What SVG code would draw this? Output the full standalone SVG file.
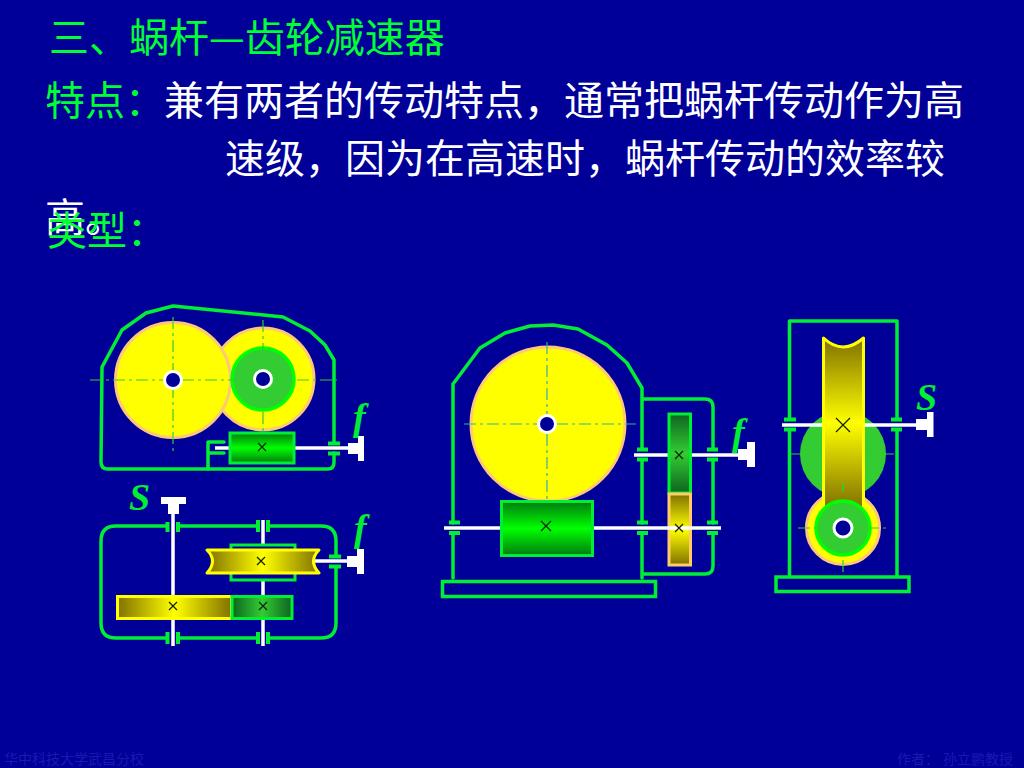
<svg xmlns="http://www.w3.org/2000/svg" width="1024" height="768" viewBox="0 0 1024 768">
<style>
.t{font-family:"Noto Sans CJK SC","Liberation Serif",sans-serif;font-size:40px}
.w{fill:#fff}
.g{fill:#00ff33}
.l{font-family:"Liberation Serif",serif;font-style:italic;font-weight:bold;font-size:38px;fill:#00ee33}
.foot{font-family:"Noto Sans CJK SC",sans-serif;font-size:14px;fill:#1a1ab0}
.h{fill:none;stroke:#00ee33;stroke-width:3.5;stroke-linejoin:round;stroke-linecap:round}
.b{fill:none;stroke:#00ee33;stroke-width:4;stroke-linecap:butt}
.s{fill:none;stroke:#fff;stroke-width:3.5}
.sh{fill:#fff}
.c{fill:none;stroke:#33cc33;stroke-width:1.2;stroke-dasharray:12 4 3 4}
.c2{fill:none;stroke:#33b0a0;stroke-width:1.2;stroke-dasharray:12 4 3 4}
.x{fill:none;stroke:#102010;stroke-width:1.2}
.wh{fill:#ffff00;stroke:#ffc878;stroke-width:3}
.hub{fill:#33cc33;stroke:#00ff00;stroke-width:3.5}
.hole{fill:#000099;stroke:#fff;stroke-width:3}
</style>
<defs>
<linearGradient id="gv" x1="0" y1="0" x2="0" y2="1"><stop offset="0" stop-color="#007a10"/><stop offset=".5" stop-color="#00ff00"/><stop offset="1" stop-color="#007a10"/></linearGradient>
<linearGradient id="gd" x1="0" y1="0" x2="0" y2="1"><stop offset="0" stop-color="#0e6420"/><stop offset=".5" stop-color="#33cc33"/><stop offset="1" stop-color="#0e6420"/></linearGradient>
<linearGradient id="gh" x1="0" y1="0" x2="1" y2="0"><stop offset="0" stop-color="#0e6420"/><stop offset=".5" stop-color="#33cc33"/><stop offset="1" stop-color="#0e6420"/></linearGradient>
<linearGradient id="yh" x1="0" y1="0" x2="1" y2="0"><stop offset="0" stop-color="#807000"/><stop offset=".5" stop-color="#ffff00"/><stop offset="1" stop-color="#807000"/></linearGradient>
<linearGradient id="yv" x1="0" y1="0" x2="0" y2="1"><stop offset="0" stop-color="#807000"/><stop offset=".5" stop-color="#ffff00"/><stop offset="1" stop-color="#807000"/></linearGradient>
</defs>
<rect width="1024" height="768" fill="#000099"/>

<g id="text">
<text class="t g" x="49" y="52">三、蜗杆—齿轮减速器</text>
<text class="t g" x="45" y="115">特点：</text>
<text class="t w" x="164" y="115">兼有两者的传动特点，通常把蜗杆传动作为高</text>
<text class="t w" x="225" y="173">速级，因为在高速时，蜗杆传动的效率较</text>
<text class="t w" x="45" y="232">高。</text>
<text class="t g" x="47" y="245">类型：</text>
<text class="foot" x="4" y="764">华中科技大学武昌分校</text>
<text class="foot" x="897" y="764">作者：</text>
<text class="foot" x="943" y="764">孙立鹏教授</text>
</g>

<g id="reducer-a">
<path class="h" d="M334,442V360L325,345L310,331L283,317L173,306L146,313L122,330L102,367L101,462Q101,469 108,469H328Q334,469 334,462V453"/>
<path class="h" d="M224,442H208V469M208,453H224"/>
<circle class="wh" cx="263" cy="379" r="51"/>
<circle class="wh" cx="173" cy="380" r="57.5"/>
<circle class="hub" cx="263" cy="379" r="31"/>
<path class="c" d="M90,380H337M173,317V452M263,320V433"/>
<circle class="hole" cx="173" cy="380" r="8.5"/>
<circle class="hole" cx="263" cy="379" r="8.5"/>
<path class="s" d="M215,448H350"/>
<rect x="230" y="433" width="64" height="30" fill="url(#gv)" stroke="#00ee33" stroke-width="3"/>
<path class="x" d="M258,443l8,8M266,443l-8,8"/>
<path class="b" d="M328,443.5H340M328,453.5H340"/>
<rect class="sh" x="348" y="443" width="10" height="11"/><rect class="sh" x="358" y="436" width="6" height="25"/>
<text class="l" x="353" y="430">f</text>
</g>

<g id="reducer-b">
<path class="h" d="M167,526H116Q101,526 101,541V623Q101,638 116,638H167M178,526H258M268,526H321Q336,526 336,541V556M336,567V623Q336,638 321,638H268M258,638H178"/>
<path class="b" d="M167.500,522V532M178,522V532M258,520V532M268,520V532M167.500,632V644M178,632V644M258,632V644M268,632V644M329,556.500H341M329,566.500H341"/>
<path class="s" d="M173,510V646M263,520V646"/>
<rect x="231" y="545" width="64" height="35" fill="#000099" stroke="#00ee33" stroke-width="3"/>
<path d="M207,550H319Q308,561 319,573H207Q218,561 207,550Z" fill="url(#yh)" stroke="#ffff00" stroke-width="3" stroke-linejoin="round"/>
<rect x="117.500" y="596.500" width="114" height="22" fill="url(#yh)" stroke="#ffff00" stroke-width="3"/>
<rect x="232" y="596.500" width="60" height="22" fill="url(#gh)" stroke="#00ee33" stroke-width="3"/>
<path class="x" d="M257,557l8,8M265,557l-8,8M169,602l8,8M177,602l-8,8M259,602l8,8M267,602l-8,8"/>
<path class="s" d="M315,561H348"/>
<rect class="sh" x="347" y="556" width="10" height="11"/><rect class="sh" x="357" y="549" width="7" height="25"/>
<rect class="sh" x="161" y="497" width="25" height="7"/><rect class="sh" x="168" y="504" width="11" height="10"/>
<text class="l" x="129" y="510">S</text>
<text class="l" x="354" y="541">f</text>
</g>

<g id="reducer-c">
<path class="h" d="M453,523V384L480,348L505,333L530,326L553,325L578,329L607,345L627,363L642,388V449M642,460V523M642,533V578M453,533V578"/>
<path class="h" d="M643,399H705Q713,399 713,407V449M713,460V523M713,533V566Q713,574 705,574H643"/>
<rect x="442.500" y="581.500" width="213" height="15" fill="none" stroke="#00ee33" stroke-width="3.500"/>
<circle class="wh" cx="548" cy="424" r="77"/>
<path class="c2" d="M464,424H636M547,342V500"/>
<circle class="hole" cx="547" cy="424" r="8.500"/>
<path class="s" d="M634,455H740"/>
<rect x="669" y="414" width="21.500" height="79" fill="url(#gd)" stroke="#00ee33" stroke-width="3"/>
<rect x="669" y="494" width="21.500" height="71" fill="url(#yv)" stroke="#ffcc66" stroke-width="3"/>
<path class="s" d="M444,528H721"/>
<rect x="501.500" y="501.500" width="91" height="54" fill="url(#gv)" stroke="#00ee33" stroke-width="3"/>
<path class="x" d="M541,521l10,10M551,521l-10,10M675,451l8,8M683,451l-8,8M675,524l8,8M683,524l-8,8"/>
<path class="b" d="M449,522.500H460M449,533H460M637,522.500H648M637,533H648M637,449.500H648M637,459.500H648M707,449.500H718M707,459.500H718M707,522.500H718M707,533H718"/>
<rect class="sh" x="738" y="449" width="9" height="11"/><rect class="sh" x="747" y="442" width="8" height="25"/>
<text class="l" x="732" y="445">f</text>
</g>

<g id="reducer-d">
<path class="h" d="M789.500,419V321H897V419M789.500,430V575M897,430V575"/>
<rect x="776" y="577" width="133" height="14.500" fill="none" stroke="#00ee33" stroke-width="3.500"/>
<circle cx="843" cy="454" r="43" fill="#33cc33"/>
<path class="c" d="M790,454H895"/>
<circle class="wh" cx="843" cy="528" r="36.500"/>
<path class="s" d="M782,425H918"/>
<path d="M823.500,338Q843,356 863.500,338V508H823.500Z" fill="url(#yv)" stroke="#ffff00" stroke-width="3" stroke-linejoin="round"/>
<path class="x" d="M836,418l14,14M850,418l-14,14"/>
<path d="M843,483V492" stroke="#33cc33" stroke-width="1.500"/>
<circle class="hub" cx="843" cy="528" r="27"/>
<path class="c" d="M798,528H887M843,560V574"/>
<circle class="hole" cx="843" cy="528" r="9"/>
<path class="b" d="M784,419.500H796M784,429.500H796M891,419.500H902M891,429.500H902"/>
<rect class="sh" x="916" y="419" width="11" height="11"/><rect class="sh" x="927" y="412" width="6.500" height="25"/>
<text class="l" x="916" y="410">S</text>
</g>
</svg>
